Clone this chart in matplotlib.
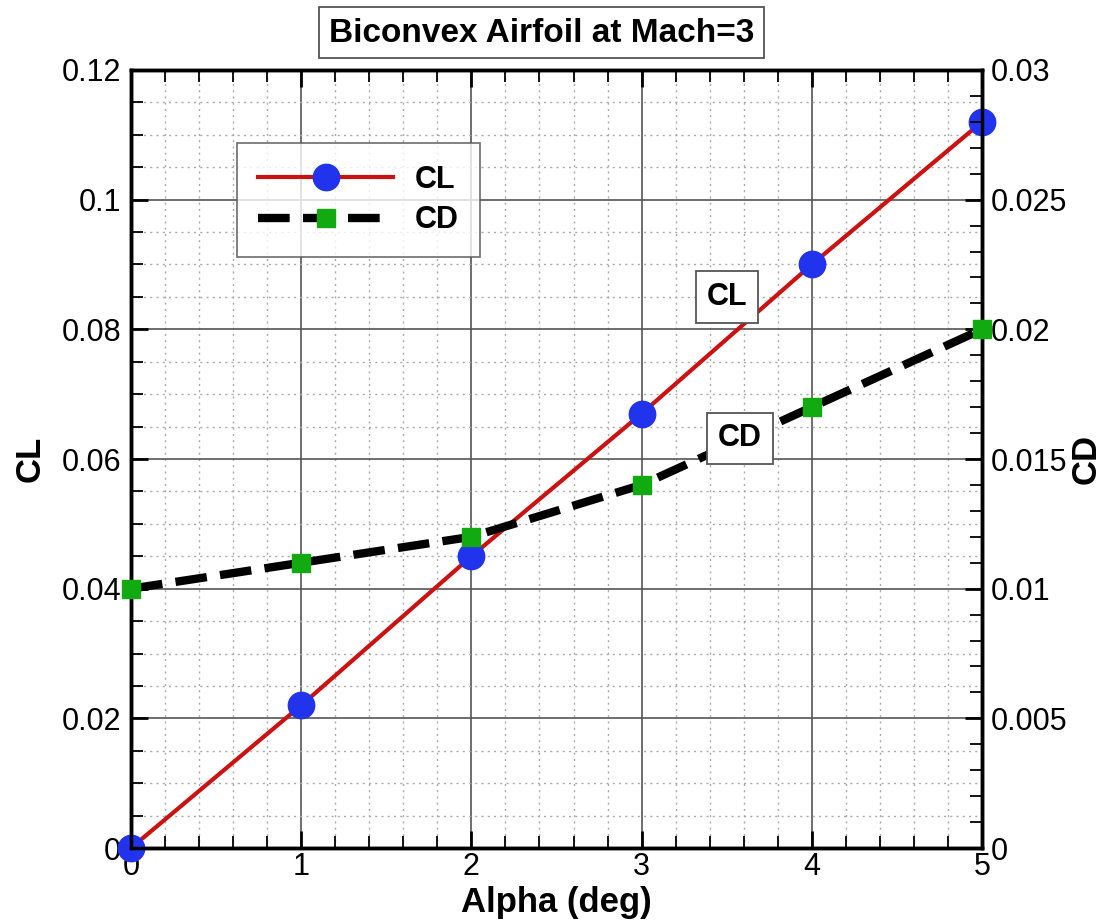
import matplotlib
matplotlib.use("Agg")
import matplotlib.pyplot as plt
from matplotlib.ticker import MultipleLocator, FuncFormatter

alpha = [0, 1, 2, 3, 4, 5]
cl = [0.0, 0.022, 0.045, 0.067, 0.090, 0.112]
cd = [0.0100, 0.0110, 0.0120, 0.0140, 0.0170, 0.0200]
title = "Biconvex Airfoil at Mach=3"

plt.rcParams['font.family'] = ['Liberation Sans', 'DejaVu Sans']

fig = plt.figure(figsize=(11.04, 9.22), dpi=100)
ax = fig.add_axes([131 / 1104, 74 / 922, 851 / 1104, 778 / 922])
ax2 = ax.twinx()

def fmt(v, pos):
    if abs(v) < 1e-12:
        return "0"
    return ("%.4f" % v).rstrip('0').rstrip('.')

ax.set_xlim(0, 5)
ax.set_ylim(0, 0.12)
ax2.set_ylim(0, 0.03)
ax.xaxis.set_major_locator(MultipleLocator(1))
ax.xaxis.set_minor_locator(MultipleLocator(0.2))
ax.yaxis.set_major_locator(MultipleLocator(0.02))
ax.yaxis.set_minor_locator(MultipleLocator(0.005))
ax2.yaxis.set_major_locator(MultipleLocator(0.005))
ax2.yaxis.set_minor_locator(MultipleLocator(0.001))
ax.yaxis.set_major_formatter(FuncFormatter(fmt))
ax2.yaxis.set_major_formatter(FuncFormatter(fmt))
ax.xaxis.set_major_formatter(FuncFormatter(fmt))

ax.grid(which='major', color='#555555', linewidth=1.2, linestyle='-')
ax.grid(which='minor', color='#aaaaaa', linewidth=1.0, linestyle=(0, (1.5, 3)))
ax.set_axisbelow(True)

for a in (ax, ax2):
    a.tick_params(which='major', direction='in', length=12, width=2.0, labelsize=22)
    a.tick_params(which='minor', direction='in', length=8.5, width=1.3)
    for sp in a.spines.values():
        sp.set_linewidth(2.5)
ax.tick_params(axis='x', which='both', top=True, pad=3)
ax.tick_params(axis='y', pad=7)
ax2.tick_params(axis='y', pad=6)

l1, = ax.plot(alpha, cl, color='#cc1111', linewidth=3, marker='o',
              markersize=19, markerfacecolor='#2233ee', markeredgecolor='#2233ee',
              label='CL', zorder=4, clip_on=False)
l2, = ax2.plot(alpha, cd, color='black', linewidth=6, linestyle=(0, (3.8, 1.6)),
               marker='s', markersize=13, markerfacecolor='#11aa11',
               markeredgecolor='#11aa11', label='CD', zorder=3, clip_on=False)

ax.set_xlabel("Alpha (deg)", fontsize=25, fontweight='bold', labelpad=3)
ax.set_ylabel("CL", fontsize=25, fontweight='bold', labelpad=11)
ax2.set_ylabel("CD", fontsize=25, fontweight='bold', labelpad=2)

fig.text(541.5 / 1104, 1 - 33 / 922, title, fontsize=24, fontweight='bold', ha='center', va='center',
         bbox=dict(boxstyle='square,pad=0.3', facecolor='white', edgecolor='#555555', linewidth=1.3))

leg = ax2.legend(handles=[l1, l2], loc='upper left', bbox_to_anchor=(0.1246, 0.906),
                 fontsize=22, frameon=True, fancybox=False, edgecolor='#555555',
                 handlelength=4.4, borderpad=0.7, labelspacing=0.35, handletextpad=0.7,
                 borderaxespad=0)
for t in leg.get_texts():
    t.set_fontweight('bold')
leg.get_frame().set_linewidth(1.3)
leg.set_zorder(10)

ax2.text(3.50, 0.085, "CL", transform=ax.transData, fontsize=22, fontweight='bold',
         ha='center', va='center', zorder=8,
         bbox=dict(boxstyle='square,pad=0.35', facecolor='white', edgecolor='#555555', linewidth=1.3))
ax2.text(3.578, 0.0632, "CD", transform=ax.transData, fontsize=22, fontweight='bold',
         ha='center', va='center', zorder=8,
         bbox=dict(boxstyle='square,pad=0.35', facecolor='white', edgecolor='#555555', linewidth=1.3))

fig.savefig("out.png", dpi=100)
